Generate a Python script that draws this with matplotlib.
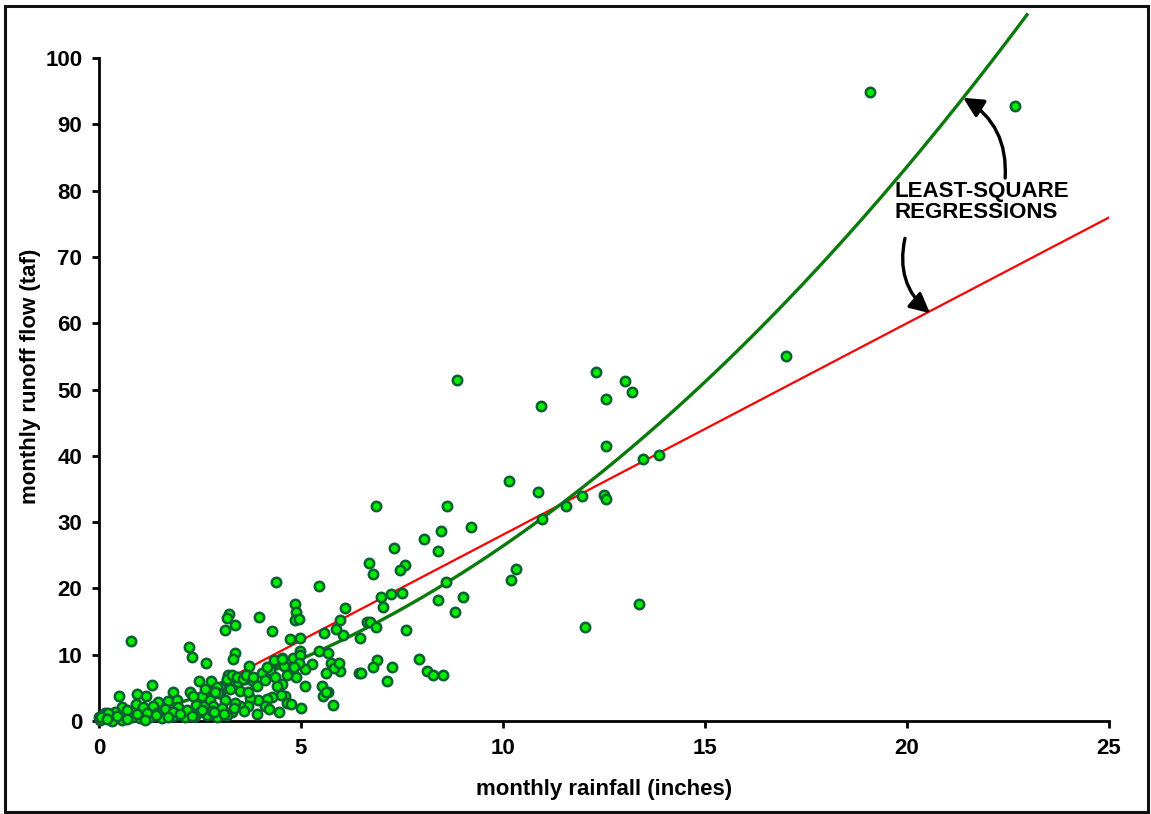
import numpy as np
import matplotlib.pyplot as plt
from matplotlib.patches import Rectangle

plt.rcParams['font.family'] = ['Liberation Sans', 'DejaVu Sans']
plt.rcParams['font.weight'] = 'bold'

# monthly rainfall (inches) and runoff (taf)
rain = [
    19.08, 22.67, 17.0, 8.86,
    12.29, 13.03, 13.19, 12.55, 10.95, 12.56, 13.47, 13.87, 10.15, 10.87,
    11.95, 12.5, 12.56, 11.55, 10.97, 10.31, 10.21, 13.37, 12.03,
    6.85, 8.61, 9.22, 8.47, 8.05, 8.38, 7.29, 6.69, 6.79, 7.58, 7.44,
    8.60, 6.99, 7.23, 7.51, 7.04, 6.09, 8.39, 9.01, 8.80, 5.97, 6.63,
    6.72, 6.85, 6.05, 6.46, 7.59, 7.91, 6.87, 6.77, 7.25, 5.97, 6.44,
    6.49, 7.12, 8.11, 8.27, 8.52,
    4.38, 5.45, 4.85, 4.88, 4.86, 4.96, 3.23, 3.16, 3.36, 3.13, 3.97,
    4.27, 4.73, 4.98, 5.56, 5.87, 3.36, 3.31, 3.71, 4.32, 4.52, 4.79,
    4.98, 4.98, 5.45, 5.66, 5.28, 5.09, 4.94, 4.82, 4.59, 4.87, 5.74,
    5.82, 5.95, 5.62, 5.10, 5.52, 5.66, 5.54, 5.78, 4.53, 4.40, 4.60,
    4.51, 4.66, 4.28, 4.15, 4.11, 3.94, 3.74, 3.70, 3.49, 3.37, 3.28,
    3.08, 3.20, 3.37, 3.45, 3.61, 3.74, 3.82, 3.90, 3.24, 3.49, 3.70,
    4.03, 4.23, 4.11, 4.36, 4.65, 3.00, 3.00, 3.12, 5.63,
    0.78, 2.22, 2.30, 2.64, 1.31, 0.50, 0.93, 1.16, 1.83, 2.48, 2.76,
    2.25, 2.54, 2.91, 2.95, 3.17, 0.58, 0.92, 1.10, 1.47, 1.72, 1.94,
    1.96, 1.33, 1.63, 2.32, 2.40, 2.60, 2.75, 2.83, 3.04,
    0.02, 0.31, 0.56, 0.81, 1.01, 1.26, 1.55, 1.84, 2.13, 2.38, 2.67,
    2.91, 3.16, 0.15, 0.40, 0.69, 1.18, 1.43, 1.84, 2.17, 2.50, 2.79,
    0.0, 0.11, 0.23, 2.62, 2.87, 3.16, 3.28, 3.41, 3.57, 3.65, 3.82,
    4.15, 4.32, 4.52, 0.05, 0.2, 0.45, 0.7, 0.95, 1.15, 1.4, 1.7, 2.0,
    2.3, 2.55, 2.85, 3.1, 3.35, 3.6, 3.9, 4.2, 4.45, 4.75, 5.0,
]
runoff = [
    94.9, 92.8, 55.0, 51.4,
    52.6, 51.3, 49.6, 48.5, 47.5, 41.5, 39.5, 40.1, 36.2, 34.5,
    33.9, 34.1, 33.5, 32.4, 30.5, 22.9, 21.3, 17.6, 14.2,
    32.5, 32.5, 29.3, 28.6, 27.5, 25.7, 26.1, 23.9, 22.2, 23.5, 22.7,
    21.0, 18.7, 19.2, 19.3, 17.2, 17.0, 18.3, 18.7, 16.4, 15.2, 15.0,
    15.0, 14.2, 13.0, 12.5, 13.7, 9.4, 9.2, 8.1, 8.1, 7.6, 7.2,
    7.3, 6.1, 7.5, 6.9, 6.9,
    21.0, 20.4, 17.6, 16.4, 15.2, 15.4, 16.2, 15.6, 14.5, 13.8, 15.7,
    13.6, 12.3, 12.5, 13.3, 13.9, 10.2, 9.3, 8.3, 8.9, 9.5, 9.5,
    10.6, 9.95, 10.6, 10.2, 8.55, 7.9, 8.8, 8.2, 8.3, 6.6, 8.8,
    8.0, 8.7, 7.3, 5.3, 5.3, 4.3, 3.7, 2.4, 5.6, 5.3, 3.7,
    3.9, 2.7, 3.6, 3.3, 2.3, 3.2, 3.4, 2.2, 2.2, 2.7, 1.4,
    1.2, 6.9, 6.7, 5.9, 6.4, 6.7, 6.1, 5.3, 4.9, 4.6, 4.3,
    7.2, 7.7, 6.2, 6.7, 6.9, 5.2, 4.2, 3.2, 4.4,
    12.0, 11.1, 9.7, 8.8, 5.5, 3.8, 4.1, 3.8, 4.4, 6.0, 6.0,
    4.3, 3.8, 5.2, 4.2, 6.2, 2.1, 2.6, 2.1, 2.8, 3.0, 3.2,
    2.1, 2.2, 1.8, 3.7, 2.4, 2.2, 3.2, 2.2, 1.9,
    0.15, 0.05, 0.15, 0.55, 0.4, 0.55, 0.4, 0.75, 0.55, 0.75, 0.9,
    0.65, 0.9, 1.2, 1.4, 1.7, 1.25, 1.15, 1.4, 1.7, 1.4, 1.55,
    0.55, 0.9, 1.15, 4.9, 4.4, 6.4, 6.9, 6.7, 6.4, 6.9, 6.7,
    8.2, 9.2, 9.4, 0.6, 0.3, 0.8, 0.3, 1.0, 0.2, 0.9, 0.6, 1.1,
    0.8, 1.6, 1.3, 1.0, 2.0, 1.5, 1.0, 1.8, 1.3, 2.6, 1.9,
]

# fitted regressions
lin_slope, lin_icpt = 3.19, -3.8
quad_a, quad_b = 0.154, 1.1

fig = plt.figure(figsize=(11.51, 8.14), dpi=100)
ax = fig.add_axes([99 / 1151, 93 / 814, 1010 / 1151, 663 / 814])

xl = np.linspace(1.2, 25, 50)
ax.plot(xl, lin_slope * xl + lin_icpt, color='#ff0000', lw=1.6, zorder=2)

xq = np.linspace(0, 22.97, 200)
ax.plot(xq, quad_a * xq ** 2 + quad_b * xq, color='#0a7a0a', lw=2.4,
        zorder=2, clip_on=False)

ax.scatter(rain, runoff, s=46, c='#00ee00', edgecolors='#0b6030',
           linewidths=1.8, zorder=3, clip_on=False)

ax.set_xlim(0, 25)
ax.set_ylim(0, 100)
ax.set_xticks(range(0, 26, 5))
ax.set_yticks(range(0, 101, 10))
for s in ['top', 'right']:
    ax.spines[s].set_visible(False)
for s in ['left', 'bottom']:
    ax.spines[s].set_linewidth(2)
ax.tick_params(direction='out', length=5, width=2, labelsize=16, pad=7)
for lab in ax.get_xticklabels() + ax.get_yticklabels():
    lab.set_fontweight('bold')

ax.set_xlabel('monthly rainfall (inches)', fontsize=16, fontweight='bold',
              labelpad=15)
ax.set_ylabel('monthly runoff flow (taf)', fontsize=16, fontweight='bold')
ax.yaxis.set_label_coords(-0.057, 0.52)

ax.text(19.7, 81.5, 'LEAST-SQUARE\nREGRESSIONS', fontsize=16,
        fontweight='bold', va='top', ha='left', linespacing=1.05)

arrow = dict(arrowstyle='-|>', color='black', lw=2.4, mutation_scale=30,
             shrinkA=0, shrinkB=0)
ax.annotate('', xy=(21.39, 94.0), xytext=(22.43, 81.9),
            arrowprops=dict(connectionstyle='arc3,rad=0.3', **arrow))
ax.annotate('', xy=(20.57, 61.5), xytext=(19.95, 72.8),
            arrowprops=dict(connectionstyle='arc3,rad=0.3', **arrow))

# outer frame around the whole figure
fig.patches.append(Rectangle((5 / 1151, 2 / 814), 1143 / 1151, 806 / 814,
                             transform=fig.transFigure, fill=False,
                             lw=2.2, ec='#111111'))

fig.savefig('out.png', dpi=100)
